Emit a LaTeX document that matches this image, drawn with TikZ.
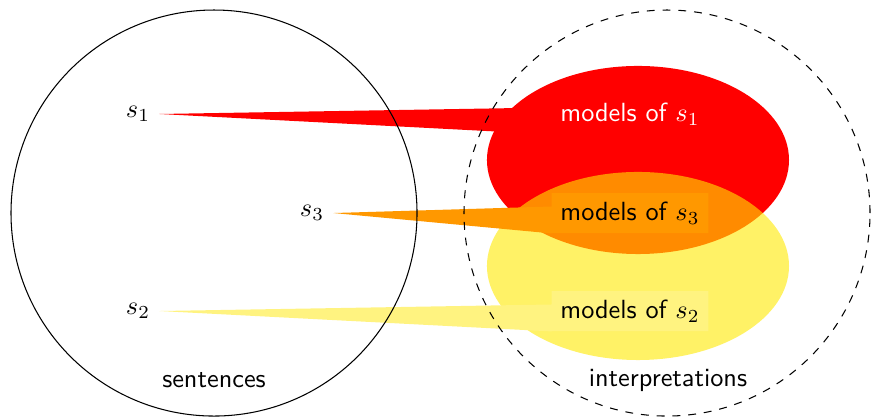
\documentclass[tikz,border=0pt]{standalone}
\usetikzlibrary{shapes.callouts}
\definecolor{modelyellow}{RGB}{255,233,0}
\definecolor{lightorange}{RGB}{255,152,0}
\definecolor{paleyellow}{RGB}{255,243,128}
\begin{document}
\begin{tikzpicture}[font=\sffamily,
  model/.style={rectangle callout, inner sep=3.33pt, callout pointer width=0.36cm}]
  \useasboundingbox (0,0) rectangle (11.644,5.575);
  % Saetze
  \node (s1) at (1.845,4.051) {$s_1$};
  \node (s3) at (4.171,2.727) {$s_3$};
  \node (s2) at (1.845,1.417) {$s_2$};

  % Modelle
  \fill[red] (8.529,3.436) ellipse [x radius=2.019, y radius=1.257];
  \fill[modelyellow, opacity=.6] (8.529,2.019) ellipse [x radius=2.019, y radius=1.257];
  \node[model, fill=red, text=white, callout absolute pointer=(s1.east)] (m1) at (8.422,4.051) {models of $s_1$};
  \node[model, fill=lightorange, callout absolute pointer=(s3.east)] (m3) at (8.422,2.727) {models of $s_3$};
  \node[model, fill=paleyellow, callout absolute pointer=(s2.east)] (m2) at (8.422,1.417) {models of $s_2$};

  % Mengen
  \draw (2.861,2.727) circle (2.714);
  \draw[dashed] (8.917,2.727) circle (2.714);
  \node (sent) at (2.861,0.495) {sentences};
  \node (interp) at (8.93,0.495) {interpretations};
\end{tikzpicture}
\end{document}
